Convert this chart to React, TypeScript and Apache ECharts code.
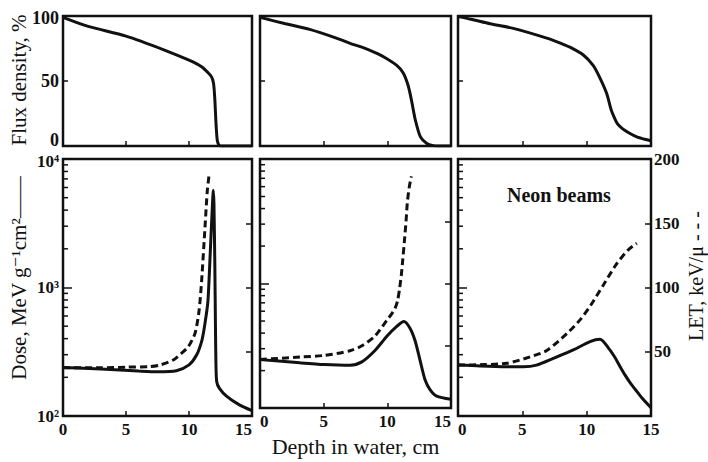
import React, { useEffect, useRef } from "react";
import * as echarts from "echarts";

// ---------- data (depth in water, cm) ----------
const depthTicks = [0, 5, 10, 15];
const fluxTicks = [0, 50, 100];
const doseMajorTicks = [100, 1000, 10000];
const doseMinorTicks = [200, 300, 400, 500, 600, 700, 800, 900, 2000, 3000, 4000, 5000, 6000, 7000, 8000, 9000];
const letTicks = [50, 100, 150, 200];

// Flux density, %
const flux1 = [[0, 99], [2, 92], [5, 84.5], [8, 74], [10, 66], [11, 61], [11.5, 56.5], [11.8, 53], [11.95, 48], [12.05, 36], [12.15, 16], [12.25, 4], [12.4, 0.5], [12.6, 0], [15, 0]];
const flux2 = [[0, 99], [2, 94], [3.9, 89.7], [6, 83], [7.07, 79], [8, 76], [9, 72], [9.7, 68.7], [10.74, 62], [11.26, 56], [11.65, 46], [11.9, 35], [12.2, 20], [12.6, 7], [13.1, 2], [13.6, 0.3], [14, 0], [15, 0]];
const flux3 = [[0, 99.5], [1, 97.5], [2.5, 94], [4.3, 90.5], [6.9, 83], [8, 79], [8.7, 76], [9.74, 70], [10.5, 62], [11, 53], [11.55, 40.5], [11.9, 28], [12.1, 23], [12.4, 17], [12.8, 13.2], [13.3, 10], [13.9, 7], [14.5, 5.2], [15, 4]];

// Dose, MeV g^-1 cm^2 (solid)
const dose1 = [[0, 238], [3, 232], [6, 224], [7.5, 221], [9, 225], [10, 250], [10.6, 298], [11.03, 390], [11.27, 527], [11.5, 780], [11.7, 2000], [11.85, 4200], [11.93, 5700], [11.98, 4500], [12.05, 1500], [12.1, 500], [12.14, 250], [12.2, 185], [12.4, 165], [13, 142], [14, 122], [15, 110]];
const dose2 = [[0, 245], [3.14, 231], [5.03, 224], [7.07, 221], [8, 235], [9.03, 290], [9.98, 379], [10.74, 453], [11.3, 495], [11.78, 437], [12.18, 347], [12.57, 242], [12.96, 169], [13.35, 141], [13.88, 125], [15, 118]];
const dose3 = [[0, 250], [1.71, 245], [3.78, 242], [5.08, 242], [6.1, 249], [7.4, 281], [8.96, 327], [10.26, 379], [11.03, 395], [11.8, 327], [12.2, 285], [12.6, 242], [13, 207], [13.4, 180], [13.8, 160], [14.3, 138], [15, 116]];

// LET, keV/micron (dashed)
const let1 = [[0, 37.5], [3, 37.5], [5, 38], [6.9, 38.5], [7.7, 39.7], [8.75, 43.6], [9.4, 48.8], [9.95, 54], [10.48, 64.4], [10.8, 82], [11.0, 105], [11.27, 147], [11.45, 175], [11.6, 188]];
const let2 = [[0, 39], [3.14, 41], [5.03, 42.3], [7.07, 46], [8, 50], [9.03, 57.8], [9.98, 70.8], [10.3, 75], [10.6, 80], [10.8, 86], [10.95, 95], [11.1, 107], [11.21, 119], [11.34, 134], [11.47, 150], [11.57, 165], [11.73, 178], [11.89, 186]];
const let3 = [[0, 39.5], [2, 40], [3.8, 41], [5.6, 46], [6.9, 51], [8.5, 64.5], [9.5, 75], [10.3, 86], [11.3, 102], [12.3, 118], [13.2, 129], [13.9, 134.5]];

const supMap: Record<number, string> = { 100: "10²", 1000: "10³", 10000: "10⁴" };

const INK = "#111";
const SERIF = "'Liberation Serif', 'DejaVu Serif', serif";

const cols = [
  { left: 63, width: 189 },
  { left: 260, width: 191 },
  { left: 458, width: 193 },
];

export default function App() {
  const ref = useRef<HTMLDivElement>(null);

  useEffect(() => {
    if (!ref.current) return;
    const chart = echarts.init(ref.current, null, { renderer: "svg" });

    const grids: any[] = [];
    cols.forEach((c) => grids.push({ left: c.left, width: c.width, top: 16, height: 130, show: true, borderColor: INK, borderWidth: 2.5, backgroundColor: "transparent" }));
    cols.forEach((c) => grids.push({ left: c.left, width: c.width, top: 159, height: 257, show: true, borderColor: INK, borderWidth: 2.5, backgroundColor: "transparent" }));

    const xAxes: any[] = [];
    for (let g = 0; g < 6; g++) {
      const bottom = g >= 3;
      const col = g % 3;
      xAxes.push({
        type: "value",
        gridIndex: g,
        min: depthTicks[0],
        max: depthTicks[depthTicks.length - 1],
        interval: 5,
        axisLine: { show: false },
        axisTick: { show: true, inside: true, length: 5, lineStyle: { color: INK, width: 1.5 } },
        splitLine: { show: false },
        axisLabel: {
          show: bottom,
          color: INK,
          fontFamily: SERIF,
          fontWeight: "bold",
          fontSize: 17,
          margin: 5,
          alignMinLabel: col === 0 ? "center" : "left",
          alignMaxLabel: col === 2 ? "center" : "right",
        },
        name: g === 4 ? "Depth in water, cm" : "",
        nameLocation: "middle",
        nameGap: 24,
        nameTextStyle: { color: INK, fontFamily: SERIF, fontSize: 22, verticalAlign: "top" },
      });
    }

    const yAxes: any[] = [];
    // flux axes 0..2
    for (let i = 0; i < 3; i++) {
      yAxes.push({
        type: "value",
        gridIndex: i,
        min: fluxTicks[0],
        max: fluxTicks[fluxTicks.length - 1],
        interval: 50,
        axisLine: { show: false },
        axisTick: { show: true, inside: true, length: 5, lineStyle: { color: INK, width: 1.5 } },
        splitLine: { show: false },
        axisLabel: {
          show: i === 0,
          color: INK,
          fontFamily: SERIF,
          fontWeight: "bold",
          fontSize: 18,
          margin: 4,
          formatter: (v: number) => (v === 0 ? "{lo|0}" : v === 100 ? "{hi|100}" : String(v)),
          rich: {
            lo: { color: INK, fontFamily: SERIF, fontWeight: "bold", fontSize: 18, lineHeight: 16, padding: [0, 0, 12, 0] },
            hi: { color: INK, fontFamily: SERIF, fontWeight: "bold", fontSize: 18, padding: [3, 0, 0, 0] },
          },
        },
      });
    }
    // dose log axes 3..5
    for (let i = 0; i < 3; i++) {
      yAxes.push({
        type: "log",
        logBase: 10,
        gridIndex: 3 + i,
        min: doseMajorTicks[0],
        max: doseMajorTicks[doseMajorTicks.length - 1],
        axisLine: { show: false },
        axisTick: { show: true, inside: true, length: 9, lineStyle: { color: INK, width: 1.5 } },
        splitLine: { show: false },
        axisLabel: {
          show: i === 0,
          color: INK,
          fontFamily: SERIF,
          fontWeight: "bold",
          fontSize: 17,
          margin: 4,
          formatter: (v: number) => (Math.round(v) === 10000 ? "{top|10⁴}" : supMap[Math.round(v)] ?? ""),
          rich: {
            top: { color: INK, fontFamily: SERIF, fontWeight: "bold", fontSize: 17, lineHeight: 17, padding: [4, 0, 0, 0] },
          },
        },
      });
    }
    // LET axes 6..8
    for (let i = 0; i < 3; i++) {
      yAxes.push({
        type: "value",
        gridIndex: 3 + i,
        position: "right",
        min: 0,
        max: letTicks[letTicks.length - 1],
        interval: 50,
        axisLine: { show: false },
        axisTick: { show: true, inside: true, length: 6, lineStyle: { color: INK, width: 1.5 } },
        splitLine: { show: false },
        axisLabel: {
          show: i === 2,
          color: INK,
          fontFamily: SERIF,
          fontWeight: "bold",
          fontSize: 17,
          margin: 3,
          formatter: (v: number) => (letTicks.includes(v) ? String(v) : ""),
        },
      });
    }

    const solid = (data: number[][], xi: number, yi: number) => ({
      type: "line",
      xAxisIndex: xi,
      yAxisIndex: yi,
      data,
      showSymbol: false,
      smooth: 0.25,
      lineStyle: { color: INK, width: 3 },
      silent: true,
    });
    const dashed = (data: number[][], xi: number, yi: number) => ({
      type: "line",
      xAxisIndex: xi,
      yAxisIndex: yi,
      data,
      showSymbol: false,
      smooth: 0.25,
      lineStyle: { color: INK, width: 3, type: [7, 4], cap: "butt" },
      silent: true,
    });
    const minor = (g: number) => ({
      type: "custom",
      xAxisIndex: g,
      yAxisIndex: g,
      data: doseMinorTicks.map((v) => [0, v]),
      silent: true,
      clip: false,
      renderItem: (_p: any, api: any) => {
        const pt = api.coord([api.value(0), api.value(1)]);
        return {
          type: "line",
          shape: { x1: pt[0], y1: pt[1], x2: pt[0] + 5, y2: pt[1] },
          style: { stroke: INK, lineWidth: 1.5 },
        };
      },
    });

    const series: any[] = [
      solid(flux1, 0, 0),
      solid(flux2, 1, 1),
      solid(flux3, 2, 2),
      solid(dose1, 3, 3),
      solid(dose2, 4, 4),
      solid(dose3, 5, 5),
      dashed(let1, 3, 6),
      dashed(let2, 4, 7),
      dashed(let3, 5, 8),
      minor(3),
      minor(4),
      minor(5),
    ];

    const textStyle = (s: any) => ({ fill: INK, ...s });

    chart.setOption({
      animation: false,
      backgroundColor: "#fff",
      grid: grids,
      xAxis: xAxes,
      yAxis: yAxes,
      series,
      graphic: [
        {
          type: "text",
          x: 19,
          y: 80,
          rotation: Math.PI / 2,
          style: textStyle({ text: "Flux density, %", font: `21px ${SERIF}`, align: "center", verticalAlign: "middle", textAlign: "center", textVerticalAlign: "middle" }),
        },
        {
          type: "text",
          x: 19,
          y: 278,
          rotation: Math.PI / 2,
          style: textStyle({ text: "Dose, MeV g⁻¹cm²——", font: `21px ${SERIF}`, align: "center", verticalAlign: "middle", textAlign: "center", textVerticalAlign: "middle" }),
        },
        {
          type: "text",
          x: 696,
          y: 276,
          rotation: Math.PI / 2,
          style: textStyle({ text: "LET, keV/μ - - -", font: `20px ${SERIF}`, align: "center", verticalAlign: "middle", textAlign: "center", textVerticalAlign: "middle" }),
        },
        {
          type: "text",
          x: 507,
          y: 195,
          style: textStyle({ text: "Neon beams", font: `bold 20px ${SERIF}`, align: "left", verticalAlign: "middle", textAlign: "left", textVerticalAlign: "middle" }),
        },
      ],
    });

    return () => chart.dispose();
  }, []);

  return (
    <div
      ref={ref}
      style={{ position: "absolute", left: 0, top: 0, width: 708, height: 462, background: "#fff" }}
    />
  );
}
